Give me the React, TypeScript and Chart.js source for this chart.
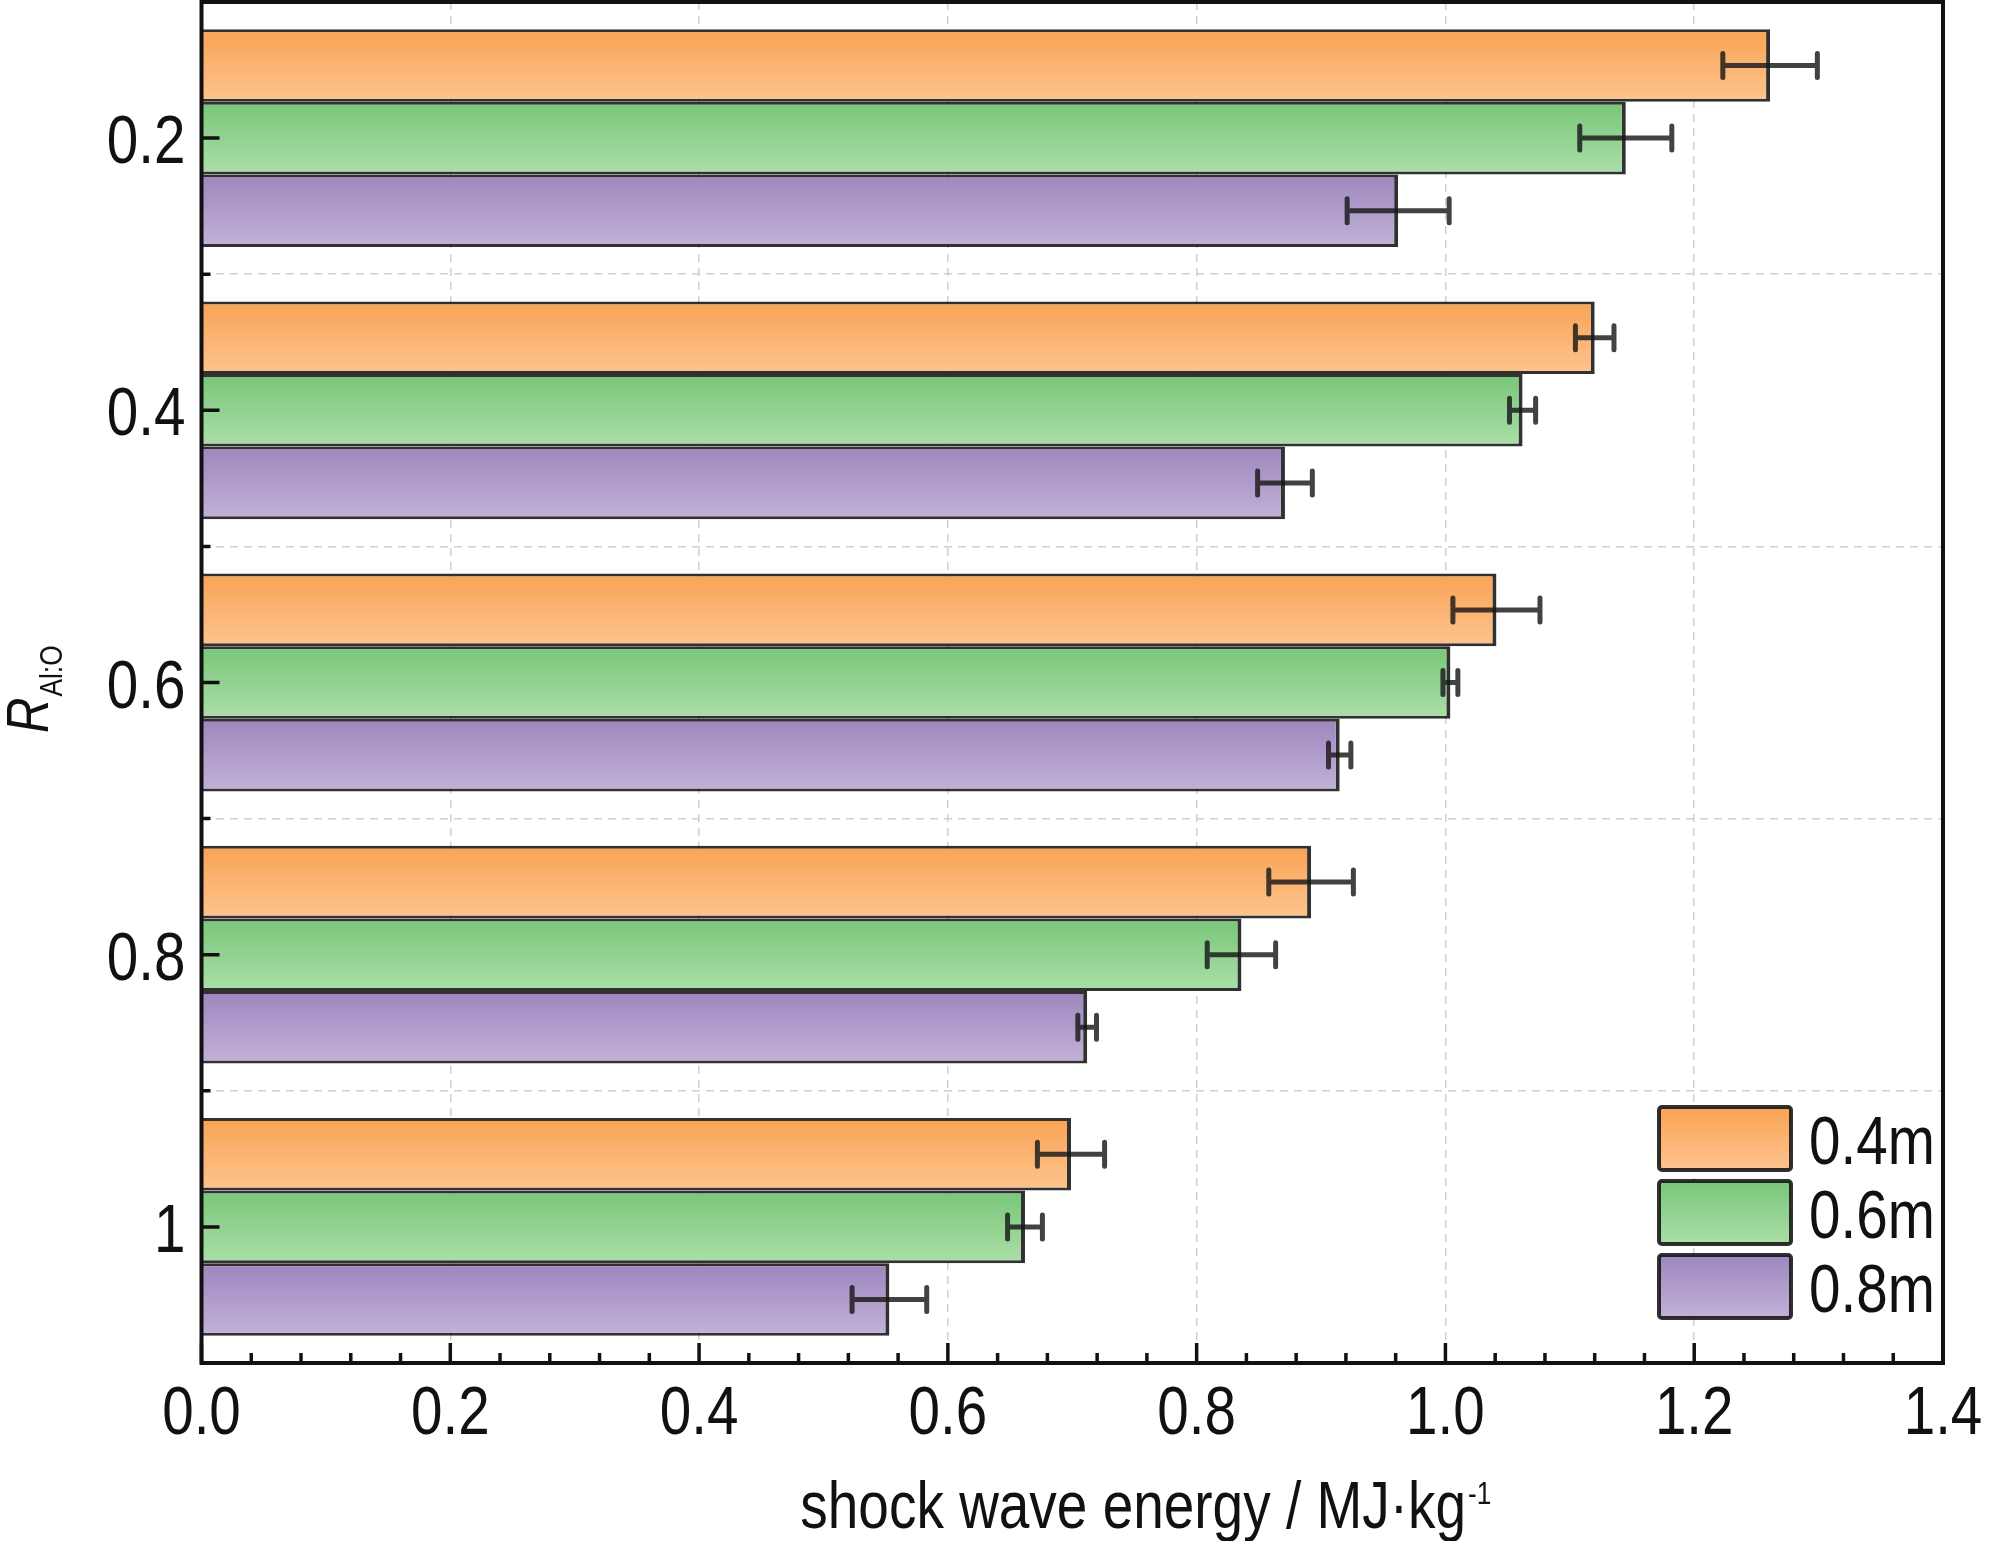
import { useEffect, useRef } from 'react';
import { Chart, registerables } from 'chart.js';

Chart.register(...registerables);

// data
const ratios = ['0.2', '0.4', '0.6', '0.8', '1'];
const seriesNames = ['0.4m', '0.6m', '0.8m'];
const energy04 = [1.261, 1.12, 1.041, 0.892, 0.699];
const energy06 = [1.145, 1.062, 1.004, 0.836, 0.662];
const energy08 = [0.962, 0.871, 0.915, 0.712, 0.553];
const err04 = [0.038, 0.0155, 0.035, 0.034, 0.027];
const err06 = [0.037, 0.0105, 0.006, 0.0275, 0.014];
const err08 = [0.041, 0.022, 0.009, 0.0075, 0.03];
const xTicks = [0, 0.2, 0.4, 0.6, 0.8, 1.0, 1.2, 1.4];

// Liberation Sans squeezed sideways stands in for Arial Narrow
const FONT = "'Liberation Sans', Arial, sans-serif";
const SQUEEZE = 0.82;
const INK = '#111';
const EDGE = 'rgba(15, 15, 15, 0.86)';

// top / bottom colours of each bar gradient
const gradStops = [
  ['#f9a353', '#fdc48f'],
  ['#78c678', '#abdfa8'],
  ['#9d86be', '#c2b2d8'],
];

const errors = [err04, err06, err08];

const makeGrad = (ctx: CanvasRenderingContext2D, top: number, bottom: number, i: number) => {
  const g = ctx.createLinearGradient(0, top, 0, bottom);
  g.addColorStop(0, gradStops[i][0]);
  g.addColorStop(1, gradStops[i][1]);
  return g;
};

const narrowText = (
  ctx: CanvasRenderingContext2D,
  text: string,
  x: number,
  y: number,
  size: number,
  align: CanvasTextAlign = 'left',
  style = '',
) => {
  ctx.save();
  ctx.translate(x, y);
  ctx.scale(SQUEEZE, 1);
  ctx.font = `${style} ${size}px ${FONT}`;
  ctx.textAlign = align;
  ctx.textBaseline = 'alphabetic';
  ctx.fillStyle = INK;
  ctx.fillText(text, 0, 0);
  const w = ctx.measureText(text).width * SQUEEZE;
  ctx.restore();
  return w;
};

// per-bar vertical gradient, set once the bars have their geometry
const gradientPlugin = {
  id: 'barGradient',
  beforeDatasetsDraw(chart: any) {
    const ctx = chart.ctx;
    chart.data.datasets.forEach((_ds: any, di: number) => {
      chart.getDatasetMeta(di).data.forEach((el: any) => {
        const half = el.height / 2;
        el.options.backgroundColor = makeGrad(ctx, el.y - half, el.y + half, di);
      });
    });
  },
};

const errorBarPlugin = {
  id: 'errorBars',
  afterDatasetsDraw(chart: any) {
    const ctx = chart.ctx;
    const x = chart.scales.x;
    ctx.save();
    ctx.strokeStyle = 'rgba(25, 25, 25, 0.82)';
    ctx.lineWidth = 5;
    ctx.lineCap = 'round';
    chart.data.datasets.forEach((ds: any, di: number) => {
      chart.getDatasetMeta(di).data.forEach((el: any, i: number) => {
        const v = ds.data[i];
        const e = errors[di][i];
        const x0 = x.getPixelForValue(v - e);
        const x1 = x.getPixelForValue(v + e);
        const y = el.y;
        ctx.beginPath();
        ctx.moveTo(x0, y);
        ctx.lineTo(x1, y);
        ctx.moveTo(x0, y - 12);
        ctx.lineTo(x0, y + 12);
        ctx.moveTo(x1, y - 12);
        ctx.lineTo(x1, y + 12);
        ctx.stroke();
      });
    });
    ctx.restore();
  },
};

const framePlugin = {
  id: 'frameAndTitles',
  afterDraw(chart: any) {
    const ctx = chart.ctx;
    const { left, right, top, bottom } = chart.chartArea;
    const x = chart.scales.x;
    const y = chart.scales.y;
    ctx.save();

    // inward ticks
    ctx.strokeStyle = INK;
    ctx.lineWidth = 3.5;
    ctx.beginPath();
    for (let k = 0; k <= 35; k++) {
      const px = x.getPixelForValue(k * 0.04);
      const len = k % 5 === 0 ? 20 : 10;
      ctx.moveTo(px, bottom);
      ctx.lineTo(px, bottom - len);
    }
    for (let i = 0; i < ratios.length; i++) {
      const py = y.getPixelForValue(i);
      ctx.moveTo(left, py);
      ctx.lineTo(left + 18, py);
      if (i < ratios.length - 1) {
        const pb = (py + y.getPixelForValue(i + 1)) / 2;
        ctx.moveTo(left, pb);
        ctx.lineTo(left + 9, pb);
      }
    }
    ctx.stroke();

    // frame
    ctx.lineWidth = 4;
    ctx.strokeRect(left, top, right - left, bottom - top);

    // tick labels
    xTicks.forEach((v) => {
      narrowText(ctx, v.toFixed(1), x.getPixelForValue(v), bottom + 71, 69, 'center');
    });
    ratios.forEach((lab, i) => {
      narrowText(ctx, lab, left - 16, y.getPixelForValue(i) + 25, 69, 'right');
    });

    // legend
    const bx = right - 284;
    let by = bottom - 256;
    seriesNames.forEach((name, i) => {
      ctx.fillStyle = makeGrad(ctx, by, by + 63, i);
      ctx.beginPath();
      ctx.roundRect(bx, by, 132, 63, 3);
      ctx.fill();
      ctx.strokeStyle = EDGE;
      ctx.lineWidth = 4;
      ctx.stroke();
      narrowText(ctx, name, bx + 150, by + 57, 69);
      by += 74;
    });

    // x title with superscript
    const main = 'shock wave energy / MJ·kg';
    ctx.font = `67px ${FONT}`;
    const wMain = ctx.measureText(main).width * SQUEEZE;
    const cx = left + 0.539 * (right - left);
    const sx = cx - (wMain + 14) / 2;
    narrowText(ctx, main, sx, 1528, 67);
    narrowText(ctx, '-1', sx + wMain + 2, 1504, 32);

    // y title, rotated, with subscript
    ctx.translate(48, 733);
    ctx.rotate(-Math.PI / 2);
    const wR = narrowText(ctx, 'R', 0, 0, 60, 'left', 'italic');
    narrowText(ctx, 'Al:O', wR + 1, 14, 32);

    ctx.restore();
  },
};

const App = () => {
  const canvasRef = useRef<HTMLCanvasElement | null>(null);
  const chartRef = useRef<Chart | null>(null);

  useEffect(() => {
    document.body.style.margin = '0';
    if (!canvasRef.current) return;
    if (chartRef.current) chartRef.current.destroy();

    const values = [energy04, energy06, energy08];

    chartRef.current = new Chart(canvasRef.current, {
      type: 'bar',
      data: {
        labels: ratios,
        datasets: seriesNames.map((name, i) => ({
          label: name,
          data: values[i],
          // a function keeps the options per bar, the gradient plugin fills them in
          backgroundColor: () => gradStops[i][0],
          borderColor: EDGE,
          borderWidth: { top: 3, bottom: 3, right: 4, left: 0 },
          borderSkipped: 'start',
          categoryPercentage: 0.8,
          barPercentage: 1.0,
        })),
      },
      options: {
        indexAxis: 'y',
        animation: false,
        responsive: true,
        maintainAspectRatio: false,
        layout: { padding: { top: 2, right: 57, left: 0, bottom: 0 } },
        plugins: {
          legend: { display: false },
          tooltip: { enabled: false },
        },
        scales: {
          x: {
            type: 'linear',
            min: 0,
            max: 1.4,
            afterBuildTicks: (scale: any) => {
              scale.ticks = xTicks.map((v) => ({ value: v }));
            },
            afterFit: (scale: any) => {
              scale.height = 178;
              scale.paddingLeft = 0;
              scale.paddingRight = 0;
            },
            grid: {
              color: '#cfcfcf',
              lineWidth: 1.5,
              drawTicks: false,
            },
            border: { display: false, dash: [8, 6] },
            ticks: { display: false },
          },
          y: {
            type: 'category',
            afterFit: (scale: any) => {
              scale.width = 201.5;
              scale.paddingTop = 0;
              scale.paddingBottom = 0;
            },
            grid: {
              color: '#cfcfcf',
              lineWidth: 1.5,
              drawTicks: false,
              offset: true,
            },
            border: { display: false, dash: [8, 6] },
            ticks: { display: false },
          },
        },
      },
      plugins: [gradientPlugin, errorBarPlugin, framePlugin],
    });

    return () => {
      if (chartRef.current) {
        chartRef.current.destroy();
        chartRef.current = null;
      }
    };
  }, []);

  return (
    <div style={{ width: 2000, height: 1541, position: 'relative', background: '#fff' }}>
      <canvas ref={canvasRef}></canvas>
    </div>
  );
};

export default App;
